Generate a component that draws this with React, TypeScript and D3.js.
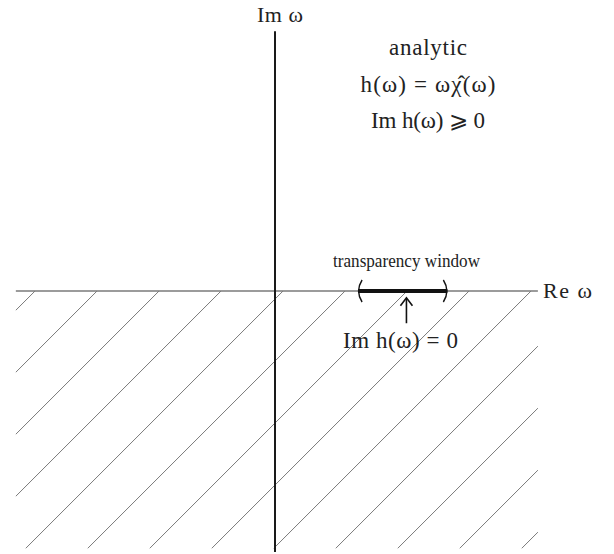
import React from "react";
import * as d3 from "d3";

// Complex ω-plane, in units of one hatch spacing
const reExtent = [-4.18, 4.24];
const imExtent = [-4.21, 4.19];
const hatchIm = [-4.15, 0];
const hatchOffsets = [-3.87, -2.87, -1.87, -0.87, 0.13, 1.13, 2.13, 3.13, 4.13, 5.13, 6.13, 7.13, 8.13];
const windowRe = [1.34, 2.78];
const arrowRe = 2.12;
const arrowIm = [-0.52, -0.11];
const upperLines = ["analytic", "h(ω) = ωχ̂(ω)", "Im h(ω) ⩾ 0"];
const upperWidths = [78, 135, 114];

const W = 614;
const H = 554;
const font = "'Liberation Serif', 'DejaVu Serif', 'Times New Roman', serif";

export default function App() {
  const x = d3.scaleLinear().domain([0, 1]).range([275, 337]);
  const y = d3.scaleLinear().domain([0, 1]).range([291, 229]);

  const hatchPath = d3.path();
  hatchOffsets.forEach((c) => {
    hatchPath.moveTo(x(c), y(0));
    hatchPath.lineTo(x(c - 6), y(-6));
  });

  const [w0, w1] = windowRe.map(x);
  const tipX = x(arrowRe);
  const tipY = y(arrowIm[1]);

  return (
    <svg
      width={W}
      height={H}
      style={{ position: "absolute", left: 0, top: 0, background: "#fff" }}
      fontFamily={font}
    >
      <defs>
        <clipPath id="lower">
          <rect
            x={x(reExtent[0])}
            y={y(hatchIm[1])}
            width={x(reExtent[1]) - x(reExtent[0])}
            height={y(hatchIm[0]) - y(hatchIm[1])}
          />
        </clipPath>
      </defs>

      {/* hatching of the lower half-plane */}
      <path d={hatchPath.toString()} stroke="#7a7a7a" strokeWidth={1} fill="none" clipPath="url(#lower)" />

      {/* real axis */}
      <line x1={x(reExtent[0])} x2={x(reExtent[1])} y1={y(0)} y2={y(0)} stroke="#7a7a7a" strokeWidth={1.3} />
      {/* imaginary axis */}
      <line x1={x(0)} x2={x(0)} y1={y(imExtent[1])} y2={y(imExtent[0])} stroke="#1a1a1a" strokeWidth={2} />

      {/* transparency window */}
      <line x1={w0} x2={w1} y1={y(0)} y2={y(0)} stroke="#111" strokeWidth={4} />
      <path d={`M${w0 + 4},${y(0) - 11} Q${w0 - 3},${y(0)} ${w0 + 4},${y(0) + 11}`} stroke="#111" strokeWidth={1.4} fill="none" />
      <path d={`M${w1 - 4},${y(0) - 11} Q${w1 + 3},${y(0)} ${w1 - 4},${y(0) + 11}`} stroke="#111" strokeWidth={1.4} fill="none" />
      <text x={333} y={267} fontSize={19} textLength={147} lengthAdjust="spacingAndGlyphs" fill="#222">
        transparency window
      </text>

      {/* arrow */}
      <line x1={tipX} x2={tipX} y1={y(arrowIm[0])} y2={tipY + 1} stroke="#111" strokeWidth={1.6} />
      <path d={`M${tipX - 6},${tipY + 8} L${tipX},${tipY} L${tipX + 6},${tipY + 8}`} stroke="#111" strokeWidth={1.6} fill="none" />
      <text x={343} y={348} fontSize={23} textLength={115} fill="#222">
        Im h(ω) = 0
      </text>

      {/* axis labels */}
      <text x={543} y={298} fontSize={22} textLength={49} fill="#222">Re ω</text>
      <text x={257} y={22} fontSize={22} textLength={46} fill="#222">Im ω</text>

      {/* upper half-plane annotation */}
      {upperLines.map((t, i) => (
        <text
          key={t}
          x={428 - upperWidths[i] / 2}
          y={55 + i * 36.5}
          fontSize={23}
          textLength={upperWidths[i]}
          fill="#222"
        >
          {t}
        </text>
      ))}
    </svg>
  );
}
